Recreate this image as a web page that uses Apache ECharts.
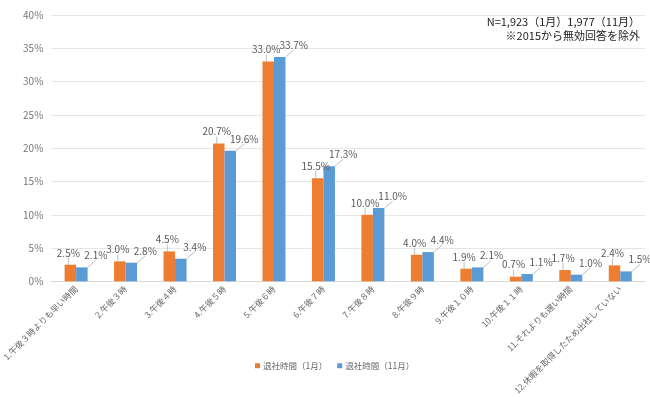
<!DOCTYPE html>
<html>
<head>
<meta charset="utf-8">
<script src="https://cdn.jsdelivr.net/npm/echarts@6/dist/echarts.min.js"></script>
<style>
  html, body { margin: 0; padding: 0; background: #fff; }
  #chart { width: 650px; height: 397px; }
</style>
</head>
<body>
<div id="chart"></div>
<script>
// categories and values
let categories = [
  '1.午後３時よりも早い時間', '2.午後３時', '3.午後４時', '4.午後５時',
  '5.午後６時', '6.午後７時', '7.午後８時', '8.午後９時',
  '9.午後１０時', '10.午後１１時', '11.それよりも遅い時間', '12.休暇を取得したため出社していない'
];
let jan = [2.5, 3.0, 4.5, 20.7, 33.0, 15.5, 10.0, 4.0, 1.9, 0.7, 1.7, 2.4];
let nov = [2.1, 2.8, 3.4, 19.6, 33.7, 17.3, 11.0, 4.4, 2.1, 1.1, 1.0, 1.5];
let seriesNames = ['退社時間（1月）', '退社時間（11月）'];
let yTicks = [0, 5, 10, 15, 20, 25, 30, 35, 40];

let myChart = echarts.init(document.getElementById('chart'));
let font = "'Noto Sans CJK JP', 'Noto Sans', sans-serif";

function labelFmt(p) {
  return p.value.toFixed(1) + '%';
}

let option = {
  animation: false,
  textStyle: { fontFamily: font },
  grid: { left: 48, right: 5, top: 15, bottom: 112, containLabel: false },
  graphic: [
    {
      type: 'text', right: 10, top: 16,
      style: { text: 'N=1,923（1月）1,977（11月）', fill: '#222', font: '11px ' + font, textAlign: 'right' }
    },
    {
      type: 'text', right: 10, top: 30,
      style: { text: '※2015から無効回答を除外', fill: '#222', font: '11px ' + font, textAlign: 'right' }
    }
  ],
  legend: {
    bottom: 22,
    left: 250,
    itemWidth: 5,
    itemHeight: 5,
    itemGap: 10,
    icon: 'rect',
    textStyle: { fontSize: 8.5, color: '#666', fontFamily: font, padding: [0, 0, 0, -2] },
    data: seriesNames
  },
  xAxis: {
    type: 'category',
    data: categories,
    axisTick: { show: false },
    axisLine: { lineStyle: { color: '#d9d9d9' } },
    axisLabel: {
      interval: 0,
      rotate: 45,
      fontSize: 8.5,
      color: '#666',
      margin: 6
    }
  },
  yAxis: {
    type: 'value',
    min: yTicks[0],
    max: yTicks[yTicks.length - 1],
    interval: 5,
    axisLine: { show: false },
    axisTick: { show: false },
    splitLine: { lineStyle: { color: '#e6e6e6' } },
    axisLabel: { formatter: '{value}%', fontSize: 10, color: '#777', margin: 8 }
  },
  series: [
    {
      name: seriesNames[0],
      type: 'bar',
      data: jan,
      barWidth: 11.5,
      barGap: '0%',
      itemStyle: { color: '#ED7D31' },
      label: { show: true, position: 'top', formatter: labelFmt, fontSize: 10, color: '#595959', distance: 4 },
      labelLine: { show: true, lineStyle: { color: '#bfbfbf', width: 1 } },
      labelLayout: { dx: -2, dy: -3 }
    },
    {
      name: seriesNames[1],
      type: 'bar',
      data: nov,
      barWidth: 11.5,
      itemStyle: { color: '#5B9BD5' },
      label: { show: true, position: 'top', formatter: labelFmt, fontSize: 10, color: '#595959', distance: 4 },
      labelLine: { show: true, lineStyle: { color: '#bfbfbf', width: 1 } },
      labelLayout: { dx: 14, dy: -3 }
    }
  ]
};

myChart.setOption(option);
</script>
</body>
</html>
